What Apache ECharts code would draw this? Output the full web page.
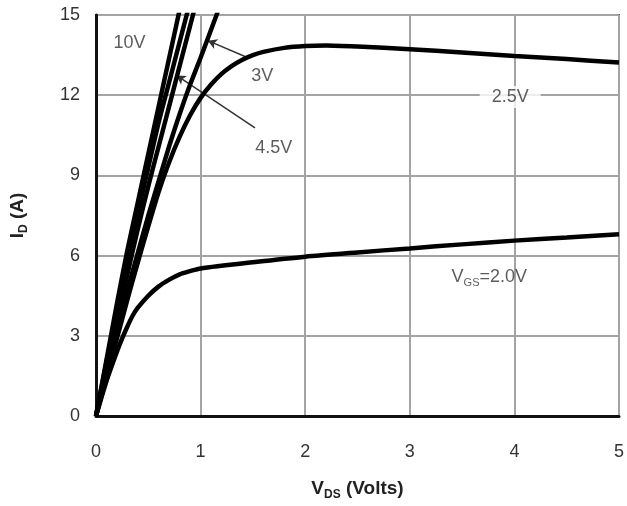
<!DOCTYPE html>
<html><head><meta charset="utf-8">
<script src="https://cdn.jsdelivr.net/npm/echarts@6/dist/echarts.min.js"></script>
<style>html,body{margin:0;padding:0;background:#fff}#c{width:627px;height:506px}</style>
</head><body><div id="c"></div>
<script>
// Output characteristics: I_D vs V_DS for several V_GS
const vdsSteep = [0,0.1,0.2,0.3,0.4,0.5,0.6,0.7,0.8,0.9,1.0,1.1,1.2];
const id10V  = [0,2.1,4.2,6.2,8.0,9.8,11.6,13.4,15.2];
const id6V   = [0,2.0,3.9,5.8,7.6,9.3,11.0,12.5,14.0,15.5];
const id45V  = [0,1.8,3.6,5.3,7.0,8.6,10.1,11.6,13.1,14.6,16.1];
const id3V   = [0,1.6,3.2,4.7,6.1,7.5,8.8,10.1,11.3,12.4,13.4,14.45,15.5];
const vds25  = [0,0.1,0.2,0.3,0.4,0.5,0.6,0.7,0.8,0.9,1.0,1.1,1.2,1.3,1.4,1.5,1.6,1.8,2.0,2.2,2.5,3.0,3.5,4.0,4.5,5.0];
const id25V  = [0,1.45,2.9,4.35,5.75,7.1,8.4,9.5,10.45,11.25,11.9,12.4,12.8,13.1,13.33,13.5,13.62,13.77,13.84,13.86,13.82,13.72,13.6,13.47,13.35,13.22];
const vds20  = [0,0.1,0.2,0.25,0.3,0.35,0.4,0.5,0.6,0.7,0.8,0.9,1.0,1.5,2.0,2.5,3.0,3.5,4.0,4.5,5.0];
const id20V  = [0,1.3,2.4,2.9,3.35,3.75,4.05,4.5,4.85,5.1,5.3,5.42,5.52,5.75,5.96,6.12,6.27,6.42,6.56,6.68,6.8];
const xTicks = [0,1,2,3,4,5];
const yTicks = [0,3,6,9,12,15];
// annotations (data coordinates)
const labelItems = [
  [0.32,13.96,'10V'],
  [1.59,12.7,'3V'],
  [1.70,10.04,'4.5V']
];
const label25 = [3.96,11.93,'2.5V'];
const labelVgs = [3.76,5.2,'{a|V}{b|GS}{a|=2.0V}'];
const arrows = [
  [[1.43,13.44],[1.07,14.04]],
  [[1.52,10.78],[0.77,12.74]]
];

const zip = (xs, ys) => ys.map((y,i)=>[xs[i],y]);
const curve = (name, data) => ({
  name, type:'line', data, smooth:0.25, showSymbol:false, symbol:'none',
  lineStyle:{color:'#000', width:4.5}, clip:true, silent:true, z:5
});
const font = '"Liberation Sans", Arial, sans-serif';
const chart = echarts.init(document.getElementById('c'), null, {renderer:'canvas'});
chart.setOption({
  animation:false,
  backgroundColor:'#fff',
  grid:{left:96, right:6, top:15, bottom:87, show:true, borderColor:'#555', borderWidth:2, backgroundColor:'transparent'},
  xAxis:{
    type:'value', min:xTicks[0], max:xTicks[xTicks.length-1], interval:1,
    axisLine:{show:true, onZero:false, lineStyle:{color:'#111', width:3}},
    axisTick:{show:false},
    splitLine:{show:true, lineStyle:{color:'#a3a3a3', width:2}},
    axisLabel:{color:'#333', fontSize:18, fontFamily:font, margin:27},
    name:'{a|V}{b|DS}{a| (Volts)}', nameLocation:'middle', nameGap:61,
    nameTextStyle:{rich:{
      a:{fontSize:19, fontWeight:'bold', fontFamily:font, color:'#222', lineHeight:24},
      b:{fontSize:12, fontWeight:'bold', fontFamily:font, color:'#222', verticalAlign:'bottom', lineHeight:14}
    }}
  },
  yAxis:{
    type:'value', min:yTicks[0], max:yTicks[yTicks.length-1], interval:3,
    axisLine:{show:true, onZero:false, lineStyle:{color:'#111', width:3}},
    axisTick:{show:false},
    splitLine:{show:true, lineStyle:{color:'#a3a3a3', width:2}},
    axisLabel:{color:'#333', fontSize:18, fontFamily:font, margin:16},
    name:'{a|I}{b|D}{a| (A)}', nameLocation:'middle', nameGap:66, nameRotate:90,
    nameTextStyle:{rich:{
      a:{fontSize:19, fontWeight:'bold', fontFamily:font, color:'#222', lineHeight:24},
      b:{fontSize:12, fontWeight:'bold', fontFamily:font, color:'#222', verticalAlign:'bottom', lineHeight:14}
    }}
  },
  series:[
    curve('10V', zip(vdsSteep,id10V)),
    curve('6V', zip(vdsSteep,id6V)),
    curve('4.5V', zip(vdsSteep,id45V)),
    curve('3V', zip(vdsSteep,id3V)),
    Object.assign(curve('2.5V', zip(vds25,id25V)), {
      markLine:{
        silent:true, symbol:['none','arrow'], symbolSize:[8,9],
        lineStyle:{color:'#333', width:1.5, type:'solid'},
        label:{show:false},
        data: arrows.map(a=>[{coord:a[0]},{coord:a[1]}])
      }
    }),
    curve('2.0V', zip(vds20,id20V)),
    {
      type:'scatter', silent:true, symbolSize:1, itemStyle:{color:'rgba(0,0,0,0)'}, z:10,
      data: labelItems,
      label:{show:true, position:'inside', formatter:p=>p.data[2], color:'#333', fontSize:18, fontFamily:font}
    },
    {
      type:'scatter', silent:true, symbolSize:1, itemStyle:{color:'rgba(0,0,0,0)'}, z:10,
      data:[label25],
      label:{show:true, position:'inside', formatter:p=>p.data[2], color:'#333', fontSize:18, fontFamily:font,
        backgroundColor:'#fff', padding:[2,12]}
    },
    {
      type:'scatter', silent:true, symbolSize:1, itemStyle:{color:'rgba(0,0,0,0)'}, z:10,
      data:[labelVgs],
      label:{show:true, position:'inside', formatter:p=>p.data[2],
        rich:{
          a:{color:'#333', fontSize:18, fontFamily:font, lineHeight:22},
          b:{color:'#333', fontSize:11, fontFamily:font, verticalAlign:'bottom', lineHeight:12}
        }}
    }
  ]
});
</script></body></html>
